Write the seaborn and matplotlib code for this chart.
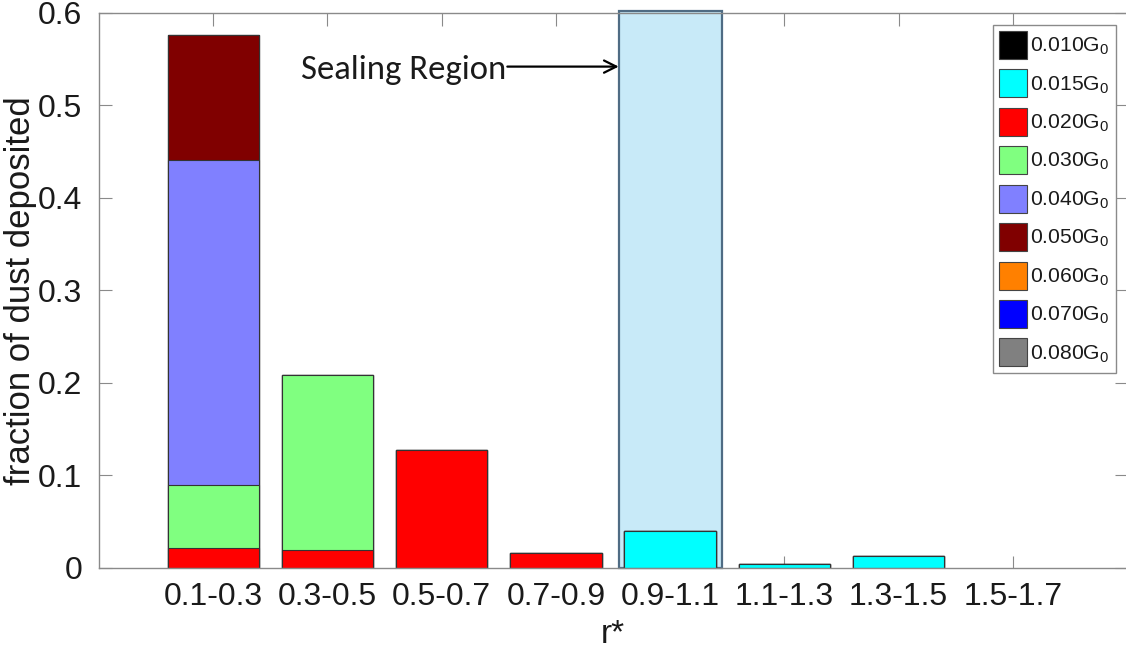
import numpy as np
import pandas as pd
import seaborn as sns
import matplotlib
matplotlib.use("Agg")
import matplotlib.pyplot as plt
from matplotlib.patches import Patch
from matplotlib.ticker import FuncFormatter

# ---- data -------------------------------------------------------------
r_bins = ["0.1-0.3", "0.3-0.5", "0.5-0.7", "0.7-0.9",
          "0.9-1.1", "1.1-1.3", "1.3-1.5", "1.5-1.7"]

levels = ["0.010", "0.015", "0.020", "0.030", "0.040",
          "0.050", "0.060", "0.070", "0.080"]

g010 = [0.0, 0.0, 0.0, 0.0, 0.0, 0.0, 0.0, 0.0]
g015 = [0.0, 0.0, 0.0, 0.0, 0.040, 0.004, 0.013, 0.0]
g020 = [0.022, 0.019, 0.128, 0.016, 0.0, 0.0, 0.0, 0.0]
g030 = [0.068, 0.190, 0.0, 0.0, 0.0, 0.0, 0.0, 0.0]
g040 = [0.351, 0.0, 0.0, 0.0, 0.0, 0.0, 0.0, 0.0]
g050 = [0.135, 0.0, 0.0, 0.0, 0.0, 0.0, 0.0, 0.0]
g060 = [0.0, 0.0, 0.0, 0.0, 0.0, 0.0, 0.0, 0.0]
g070 = [0.0, 0.0, 0.0, 0.0, 0.0, 0.0, 0.0, 0.0]
g080 = [0.0, 0.0, 0.0, 0.0, 0.0, 0.0, 0.0, 0.0]

level_colors = ["#000000", "#00FFFF", "#FF0000", "#80FF80", "#8080FF",
                "#800000", "#FF8000", "#0000FF", "#808080"]

# highlighted band
sealing_bin = "0.9-1.1"
sealing_height = 0.602
sealing_label = "Sealing Region"

yticks = [0, 0.1, 0.2, 0.3, 0.4, 0.5, 0.6]

# ---- styling ----------------------------------------------------------
sns.set_style("ticks")
plt.rcParams["font.family"] = ["Liberation Sans", "DejaVu Sans"]
plt.rcParams["mathtext.fontset"] = "custom"
plt.rcParams["mathtext.rm"] = "Liberation Sans"
plt.rcParams["mathtext.it"] = "Liberation Sans"

spine_col = "#8a8a8a"
text_col = "#1a1a1a"

fig = plt.figure(figsize=(11.26, 6.54), dpi=100)
ax = fig.add_axes([0.0879, 0.1315, 0.9130, 0.8487])

series = [g010, g015, g020, g030, g040, g050, g060, g070, g080]
stack = np.cumsum(np.array(series, dtype=float), axis=0)

df = pd.DataFrame({"r": r_bins})
for lev, row in zip(levels, stack):
    df[lev] = row

# sealing-region backdrop bar
seal_df = pd.DataFrame({"r": r_bins,
                        "h": [sealing_height if b == sealing_bin else 0.0
                              for b in r_bins]})
sns.barplot(data=seal_df, x="r", y="h", order=r_bins, color="#C8EAF8",
            saturation=1, width=0.9, edgecolor="#4F6C84", linewidth=1.6,
            errorbar=None, ax=ax)
for p in ax.patches:
    p.set_clip_on(False)

# stacked layers: draw tallest cumulative first so lower layers sit on top
for lev, col in reversed(list(zip(levels, level_colors))):
    sns.barplot(data=df, x="r", y=lev, order=r_bins, color=col,
                saturation=1, width=0.8, edgecolor="#333333", linewidth=0.8,
                errorbar=None, ax=ax)

# hide empty bars
for p in ax.patches:
    if p.get_height() <= 0:
        p.set_visible(False)

# ---- axes -------------------------------------------------------------
ax.set_xlim(-1, len(r_bins))
ax.set_ylim(0, 0.6)
ax.set_yticks(yticks)
ax.yaxis.set_major_formatter(FuncFormatter(lambda v, _: "0" if v == 0 else f"{v:g}"))
ax.set_xlabel("r*", fontsize=24, labelpad=5, color=text_col)
ax.set_ylabel("fraction of dust deposited", fontsize=25, labelpad=1, color=text_col)

ax.tick_params(axis="both", direction="in", length=9, width=0.8,
               color=spine_col, labelsize=23, labelcolor=text_col,
               top=True, right=True)
ax.tick_params(axis="y", pad=12)
ax.tick_params(axis="x", pad=10)
for s in ax.spines.values():
    s.set_visible(True)
    s.set_color(spine_col)
    s.set_linewidth(1.0)

# annotation pointing at the sealing-region bar
seal_idx = r_bins.index(sealing_bin)
seal_left = seal_idx - 0.9 / 2
ax.annotate("", xy=(seal_left, 0.542), xytext=(seal_left - 0.975, 0.542),
            arrowprops=dict(arrowstyle="->", color="black", lw=1.6,
                            mutation_scale=22, shrinkA=0, shrinkB=0))
ax.text(seal_left - 0.985, 0.542, sealing_label, ha="right",
        va="center_baseline", fontsize=25,
        family=["Carlito", "Lato", "DejaVu Sans"], color=text_col)

# legend
handles = [Patch(facecolor=c, edgecolor="#444444", linewidth=0.8)
           for c in level_colors]
labels = [f"{lev}G$_0$" for lev in levels]
leg = ax.legend(handles, labels, loc="upper right",
                bbox_to_anchor=(0.989, 0.979), borderaxespad=0,
                fontsize=15.2, handlelength=1.33, handleheight=1.67,
                handletextpad=0.15, labelspacing=0.49, borderpad=0.3,
                fancybox=False, framealpha=1)
leg.get_frame().set_edgecolor(spine_col)
leg.get_frame().set_linewidth(1.0)
for t in leg.get_texts():
    t.set_color(text_col)

fig.savefig("out.png", dpi=100)
